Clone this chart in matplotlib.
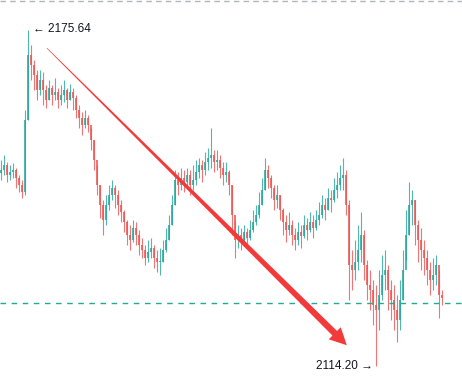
import numpy as np
import matplotlib
matplotlib.use("Agg")
from matplotlib import pyplot as plt
from matplotlib.patches import Polygon

# candle data (one candle per bar)
first_open = 2149.5
closes = [2150.0, 2150.9, 2149.1, 2149.7, 2150.0, 2148.6, 2147.3, 2146.0, 2159.2, 2171.0,
          2169.2, 2167.4, 2164.6, 2166.5, 2164.6, 2162.8, 2165.0, 2163.7, 2164.3, 2162.8,
          2163.7, 2164.6, 2162.8, 2164.3, 2163.2, 2161.0, 2159.5, 2158.2, 2159.5, 2158.2,
          2155.5, 2151.9, 2147.3, 2143.6, 2140.9, 2143.6, 2145.5, 2146.7, 2145.5, 2143.6,
          2142.4, 2140.5, 2138.1, 2137.2, 2139.4, 2138.1, 2136.3, 2135.4, 2133.9, 2135.0,
          2135.8, 2133.9, 2133.2, 2133.2, 2135.4, 2137.2, 2140.0, 2143.6, 2148.2, 2147.3,
          2148.6, 2147.8, 2149.1, 2147.3, 2148.2, 2149.7, 2150.9, 2150.0, 2151.5, 2152.2,
          2152.8, 2151.5, 2151.9, 2150.4, 2149.1, 2149.7, 2147.3, 2141.8, 2137.2, 2138.1,
          2137.2, 2138.7, 2137.6, 2139.1, 2140.5, 2141.8, 2143.6, 2146.4, 2150.0, 2148.6,
          2146.7, 2144.5, 2145.5, 2142.7, 2140.5, 2139.1, 2140.0, 2138.1, 2137.2, 2138.7,
          2138.0, 2140.0, 2139.1, 2140.5, 2139.4, 2140.9, 2141.8, 2143.6, 2142.7, 2144.9,
          2144.5, 2146.4, 2147.3, 2148.6, 2149.1, 2143.6, 2132.7, 2131.8, 2133.2, 2135.4,
          2138.1, 2132.7, 2129.0, 2128.1, 2125.3, 2124.4, 2127.2, 2130.8, 2131.8, 2128.1,
          2126.3, 2124.4, 2122.6, 2126.3, 2131.8, 2138.1, 2143.6, 2144.5, 2140.0, 2137.2,
          2135.4, 2133.9, 2131.8, 2129.9, 2130.8, 2132.7, 2127.2, 2126.7]
highs = [2151.9, 2152.8, 2151.5, 2150.9, 2151.3, 2150.4, 2149.1, 2148.2, 2161.0, 2175.64,
         2172.9, 2170.1, 2168.3, 2168.3, 2167.9, 2165.6, 2166.5, 2165.6, 2166.8, 2165.0,
         2165.6, 2166.5, 2165.0, 2165.7, 2165.0, 2163.7, 2161.9, 2160.6, 2161.0, 2160.1,
         2157.7, 2155.5, 2150.9, 2147.3, 2144.5, 2145.5, 2147.3, 2148.2, 2147.3, 2146.4,
         2144.5, 2142.7, 2140.9, 2140.0, 2140.9, 2140.5, 2139.1, 2137.6, 2136.3, 2137.2,
         2137.6, 2136.3, 2135.4, 2135.8, 2137.2, 2139.4, 2141.8, 2145.5, 2150.0, 2149.7,
         2150.4, 2150.0, 2150.4, 2150.0, 2150.9, 2151.9, 2152.2, 2151.9, 2153.3, 2154.0,
         2157.7, 2153.7, 2153.7, 2152.8, 2151.5, 2151.5, 2150.0, 2147.3, 2140.9, 2140.0,
         2139.4, 2140.0, 2139.4, 2140.9, 2142.7, 2143.6, 2146.0, 2148.6, 2152.2, 2150.9,
         2149.1, 2147.3, 2147.3, 2145.5, 2143.1, 2141.8, 2142.4, 2140.9, 2139.4, 2140.5,
         2140.0, 2141.8, 2141.3, 2142.4, 2141.8, 2142.7, 2144.2, 2145.5, 2144.9, 2146.7,
         2146.4, 2148.6, 2149.7, 2150.9, 2152.2, 2150.0, 2144.5, 2135.4, 2137.2, 2140.0,
         2142.4, 2139.1, 2133.6, 2131.8, 2129.9, 2129.0, 2131.8, 2134.5, 2135.4, 2132.7,
         2129.9, 2129.0, 2127.2, 2129.9, 2135.4, 2142.7, 2147.8, 2146.4, 2144.5, 2140.9,
         2139.4, 2137.2, 2135.4, 2133.2, 2133.9, 2134.5, 2131.8, 2128.1]
lows = [2148.2, 2149.1, 2147.8, 2148.2, 2148.6, 2146.7, 2146.0, 2144.9, 2145.5, 2159.2,
        2166.5, 2164.6, 2162.8, 2163.7, 2161.9, 2161.4, 2162.8, 2161.9, 2162.8, 2161.4,
        2161.9, 2162.5, 2161.4, 2162.8, 2161.0, 2159.5, 2157.7, 2156.4, 2157.7, 2157.0,
        2153.7, 2150.0, 2145.5, 2141.3, 2138.1, 2140.0, 2142.7, 2144.5, 2143.1, 2141.8,
        2140.5, 2138.7, 2136.3, 2135.4, 2136.9, 2136.3, 2134.5, 2133.9, 2132.7, 2133.2,
        2133.9, 2132.1, 2131.4, 2130.8, 2133.2, 2135.0, 2137.2, 2140.0, 2143.6, 2145.5,
        2146.4, 2146.0, 2146.7, 2145.5, 2146.4, 2147.3, 2148.6, 2147.8, 2149.1, 2150.0,
        2150.4, 2149.7, 2150.0, 2148.6, 2147.3, 2147.8, 2145.5, 2138.1, 2133.9, 2135.8,
        2135.4, 2136.3, 2135.8, 2137.2, 2138.7, 2140.0, 2141.3, 2143.6, 2146.4, 2146.7,
        2144.9, 2142.7, 2143.1, 2140.9, 2138.1, 2136.9, 2138.1, 2136.3, 2135.4, 2136.3,
        2135.8, 2137.6, 2137.2, 2138.7, 2137.6, 2139.1, 2140.0, 2141.3, 2140.9, 2142.7,
        2142.4, 2144.2, 2144.9, 2146.4, 2146.4, 2141.8, 2126.3, 2128.1, 2129.9, 2131.8,
        2133.2, 2129.9, 2126.3, 2124.4, 2121.7, 2114.20, 2120.8, 2126.3, 2128.1, 2124.4,
        2122.6, 2120.8, 2118.6, 2120.8, 2126.3, 2133.6, 2138.1, 2140.0, 2136.3, 2133.2,
        2131.8, 2130.8, 2129.0, 2127.2, 2128.1, 2129.0, 2123.0, 2125.3]

hi_idx, hi_val = 9, 2175.64
lo_idx, lo_val = 125, 2114.20
level = 2125.7                       # dashed horizontal line
arrow_start = (15.3, 2172.3)         # drawn trend arrow
arrow_end = (115.3, 2118.0)

up_col = "#26a69a"
down_col = "#ef5350"

x = np.arange(len(closes))
opens = np.array([first_open] + closes[:-1])
closes = np.array(closes)
up = closes >= opens
cols = np.where(up, up_col, down_col)

fig = plt.figure(figsize=(4.62, 3.89), dpi=100)
ax = fig.add_axes([0, 0, 1, 1])
ax.set_xlim(-0.33, 153.7)
ax.set_ylim(2110.0, 2181.1)
ax.axis("off")

ax.vlines(x, lows, highs, colors=cols, linewidth=0.8, alpha=0.8)
body_lo = np.minimum(opens, closes)
body_h = np.maximum(np.abs(closes - opens), 0.15)
ax.bar(x, body_h, bottom=body_lo, width=0.7, color=cols, alpha=0.8, linewidth=0)

# dashed level line and top border
ax.axhline(level, color="#22ab94", linewidth=1, dashes=(4, 4))
ax.axhline(2181.0, color="#b2b5be", linewidth=1, dashes=(4, 3), clip_on=False)

# tapered arrow, built in pixel space
fig.canvas.draw()
p0 = ax.transData.transform(arrow_start)
p1 = ax.transData.transform(arrow_end)
d = p1 - p0
u = d / np.hypot(*d)
n = np.array([-u[1], u[0]])
head_len, head_w = 17, 17
w0, w1 = 0.6, 6.5
base = p1 - u * head_len
pts = [p0 + n * w0 / 2, base + n * w1 / 2, base + n * head_w / 2, p1,
       base - n * head_w / 2, base - n * w1 / 2, p0 - n * w0 / 2]
pts = ax.transData.inverted().transform(np.array(pts))
ax.add_patch(Polygon(pts, closed=True, facecolor="#f23a3a", edgecolor="none", zorder=5))

fam = ["Liberation Sans", "DejaVu Sans"]
ax.annotate("\u2190 %.2f" % hi_val, xy=(hi_idx, hi_val), xytext=(5, 1),
            textcoords="offset pixels", ha="left", va="center",
            fontsize=8.5, family=fam, color="#131722")
ax.annotate("%.2f \u2192" % lo_val, xy=(lo_idx, lo_val), xytext=(-3, 0),
            textcoords="offset pixels", ha="right", va="center",
            fontsize=8.5, family=fam, color="#131722")

fig.savefig("out.png", dpi=100)
